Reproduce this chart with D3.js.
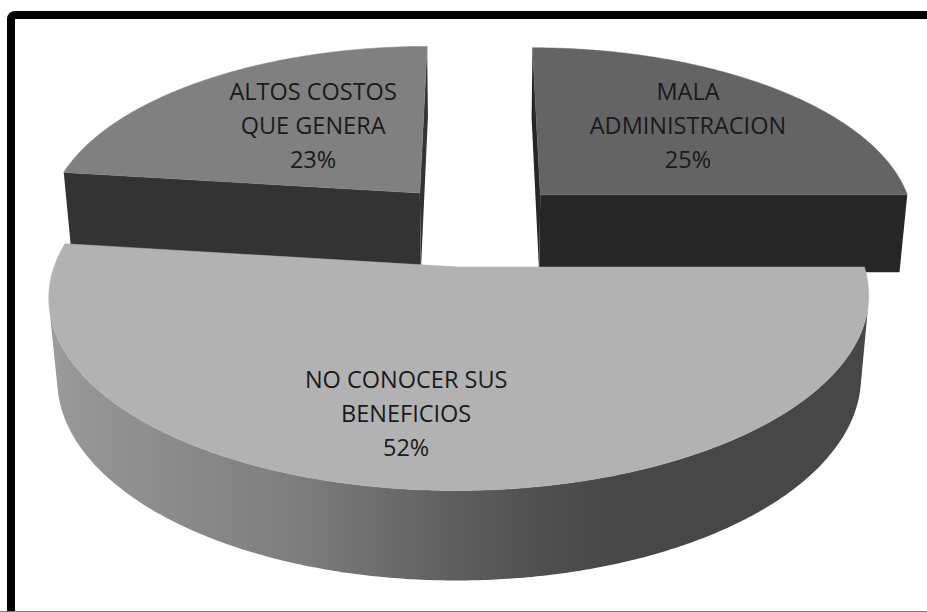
<!DOCTYPE html>
<html>
<head>
<meta charset="utf-8">
<script src="https://cdn.jsdelivr.net/npm/d3@7"></script>
<style>
  html, body { margin: 0; padding: 0; background: #ffffff; }
  svg { display: block; }
</style>
</head>
<body>
<svg id="chart" width="927" height="612"></svg>
<script>
// ---- data ----
const categories = [
  ["MALA", "ADMINISTRACION"],
  ["NO CONOCER SUS", "BENEFICIOS"],
  ["ALTOS COSTOS", "QUE GENERA"]
];
const values = [25, 52, 23];

// ---- styling ----
const topColors = ["#646464", "#b2b2b2", "#808080"];
// wall shading per slice, as a function of the rim angle (degrees)
const sideShades = [
  d3.scaleLinear().domain([0, 360]).range(["#262626", "#262626"]),
  d3.scaleLinear()
    .domain([90, 160, 170, 180, 186, 201, 223, 256, 278])
    .range(["#474747", "#474747", "#505050", "#5e5e5e", "#686868", "#7f7f7f", "#8e8e8e", "#9c9c9c", "#a0a0a0"])
    .clamp(true),
  d3.scaleLinear().domain([0, 360]).range(["#333333", "#333333"])
];
// per-slice explode direction tweak (deg) and horizontal radius factor
const explodeTurn = [0, 8, 0];
const radiusX = [1, 1.04, 1];
// label anchor relative to each slice: radius and angle offset from the bisector (deg)
const labelPlacement = [
  { r: 0.62, da: 0 },
  { r: 0.70, da: 6 },
  { r: 0.535, da: 4.8 }
];

// 3D view of the pie: unit radius disc, perspective camera
const view = { tilt: 28.0, dist: 6.003, focal: 2258, cx: 478, cy: 224, depth: 0.242, explode: 0.24 };

const W = 927, H = 612;
const svg = d3.select("#chart");
svg.append("rect").attr("width", W).attr("height", H).attr("fill", "#ffffff");
const defs = svg.append("defs");

const th = view.tilt * Math.PI / 180, sT = Math.sin(th), cT = Math.cos(th);
const cam = [0, view.dist * sT, view.dist * cT];

function project(p) {
  const [X, Y, Z] = p;
  const depth = view.dist - (Y * sT + Z * cT);
  const up = Y * cT - Z * sT;
  return [view.cx + X * view.focal / depth, view.cy - up * view.focal / depth, depth];
}

const pie = d3.pie().sort(null).value(d => d.value);
const rows = values.map((v, i) => ({ value: v, lines: categories[i], i }));
const arcs = pie(rows);
const total = d3.sum(values);
const pct = d3.format(".0%");
const deg = r => r * 180 / Math.PI;
const rad = d => d * Math.PI / 180;
const line = d3.line();
const xy = p => [p[0], p[1]];

const slices = arcs.map(a => {
  const i = a.data.i;
  const b = (a.startAngle + a.endAngle) / 2;
  const eb = b + rad(explodeTurn[i]);
  return { ...a, b, ox: view.explode * Math.sin(eb), oz: -view.explode * Math.cos(eb), kx: radiusX[i] };
});

const h = view.depth;
const g = svg.append("g");

const faceVisible = (n, m) =>
  n[0] * (cam[0] - m[0]) + n[1] * (cam[1] - m[1]) + n[2] * (cam[2] - m[2]) > 0;

// farthest slices first
slices.slice().sort((p, q) => p.oz - q.oz).forEach(s => {
  const i = s.data.i;
  const a0 = s.startAngle, a1 = s.endAngle;
  const rim = (t, Y) => [s.ox + s.kx * Math.sin(t), Y, s.oz - Math.cos(t)];
  const wallNormal = t => [Math.sin(t) / s.kx, 0, -Math.cos(t)];
  const centre = Y => [s.ox, Y, s.oz];
  const shade = sideShades[i];
  const parts = [];

  // outer wall: find runs of rim angle that face the camera
  const N = Math.max(16, Math.ceil(deg(a1 - a0) * 4));
  const runs = [];
  let cur = null;
  for (let k = 0; k < N; k++) {
    const t0 = a0 + (a1 - a0) * k / N, t1 = a0 + (a1 - a0) * (k + 1) / N, tm = (t0 + t1) / 2;
    const vis = faceVisible(wallNormal(tm), rim(tm, -h / 2));
    if (vis) { if (!cur) { cur = [t0, t1]; runs.push(cur); } else cur[1] = t1; }
    else cur = null;
  }
  runs.forEach((run, r) => {
    const [ts, te] = run;
    const M = Math.max(4, Math.ceil(deg(te - ts) * 2));
    const angles = d3.range(M + 1).map(k => ts + (te - ts) * k / M);
    const topEdge = angles.map(t => xy(project(rim(t, 0))));
    const botEdge = angles.map(t => xy(project(rim(t, -h)))).reverse();
    const xs = angles.map(t => project(rim(t, -h / 2))[0]);
    const id = `wall-${i}-${r}`;
    const grad = defs.append("linearGradient").attr("id", id)
      .attr("gradientUnits", "userSpaceOnUse")
      .attr("x1", xs[0]).attr("x2", xs[xs.length - 1]).attr("y1", 0).attr("y2", 0);
    const span = xs[xs.length - 1] - xs[0];
    angles.forEach((t, k) => {
      const off = Math.abs(span) < 1e-6 ? k / M : (xs[k] - xs[0]) / span;
      grad.append("stop").attr("offset", Math.max(0, Math.min(1, off))).attr("stop-color", shade(deg(t)));
    });
    const mid = project(rim((ts + te) / 2, -h / 2));
    parts.push({ d: line(topEdge.concat(botEdge)) + "Z", fill: `url(#${id})`, depth: mid[2] });
  });

  // cut faces
  [[a0, [-Math.cos(a0), 0, -Math.sin(a0)]], [a1, [Math.cos(a1), 0, Math.sin(a1)]]].forEach(([a, n]) => {
    const pts = [centre(0), rim(a, 0), rim(a, -h), centre(-h)];
    const m = [0, 1, 2].map(k => d3.mean(pts, p => p[k]));
    if (faceVisible(n, m)) {
      const pp = pts.map(project);
      parts.push({ d: line(pp.map(xy)) + "Z", fill: shade(deg(a)), depth: d3.mean(pp, p => p[2]) });
    }
  });

  const sg = g.append("g").attr("class", "slice");
  sg.selectAll("path.side").data(parts.sort((p, q) => q.depth - p.depth)).join("path")
    .attr("class", "side")
    .attr("d", d => d.d)
    .attr("fill", d => d.fill)
    .attr("stroke", "none");

  // top face
  const M = Math.max(16, Math.ceil(deg(a1 - a0) * 2));
  const topPts = [centre(0)];
  for (let k = 0; k <= M; k++) topPts.push(rim(a0 + (a1 - a0) * k / M, 0));
  sg.append("path")
    .attr("d", line(topPts.map(project).map(xy)) + "Z")
    .attr("fill", topColors[i])
    .attr("stroke", topColors[i])
    .attr("stroke-width", 0.5);
});

// labels
const fontSize = 23.5, lineGap = 34, capHalf = 8.5;
slices.forEach(s => {
  const i = s.data.i;
  const lp = labelPlacement[i];
  const t = s.b + rad(lp.da);
  const [x, y] = project([s.ox + lp.r * Math.sin(t), 0, s.oz - lp.r * Math.cos(t)]);
  const lines = [...s.data.lines, pct(s.data.value / total)];
  const text = svg.append("text")
    .attr("text-anchor", "middle")
    .attr("font-family", "'Open Sans', 'Noto Sans', sans-serif")
    .attr("font-size", fontSize)
    .attr("fill", "#1a1a1a");
  lines.forEach((l, k) => {
    text.append("tspan")
      .attr("x", x)
      .attr("y", y + capHalf + (k - (lines.length - 1) / 2) * lineGap)
      .text(l);
  });
});

// frame
svg.append("rect")
  .attr("x", 11).attr("y", 15)
  .attr("width", 1000).attr("height", 700)
  .attr("rx", 4)
  .attr("fill", "none")
  .attr("stroke", "#000000")
  .attr("stroke-width", 8);
svg.append("line")
  .attr("x1", 0).attr("x2", W)
  .attr("y1", 611.5).attr("y2", 611.5)
  .attr("stroke", "#7a7a7a")
  .attr("stroke-width", 1);
</script>
</body>
</html>
